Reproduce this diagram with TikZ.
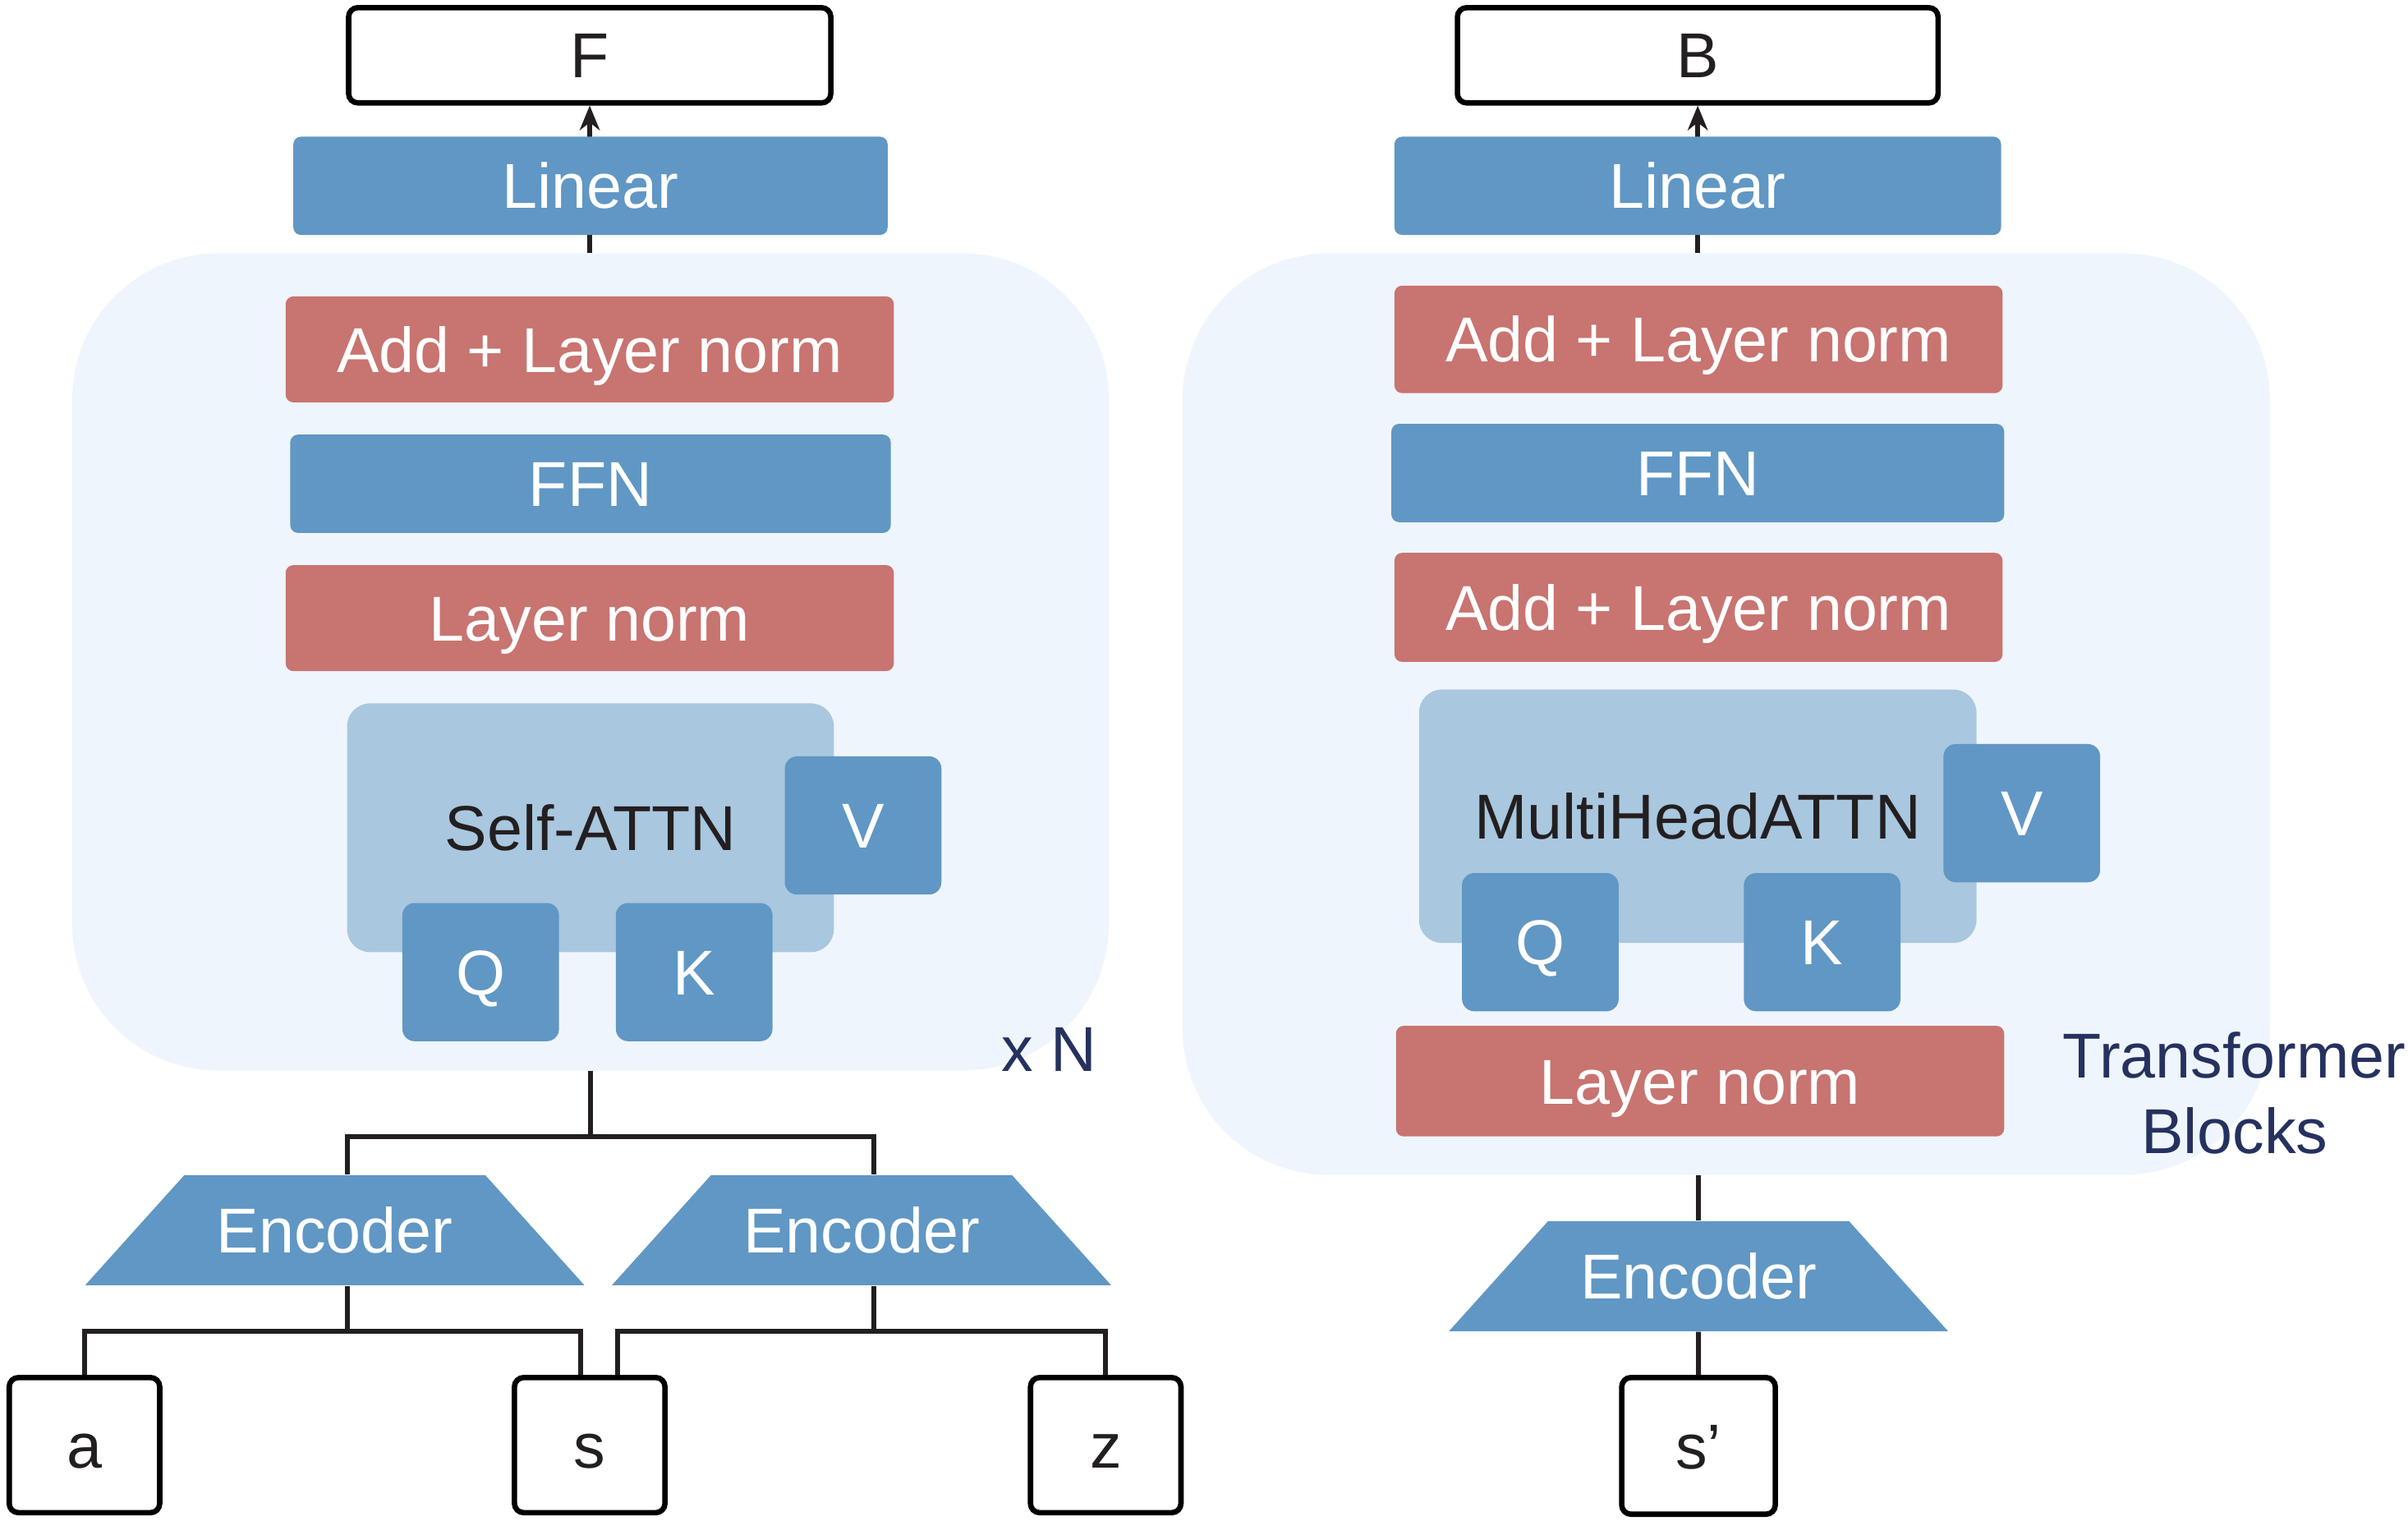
\documentclass[tikz,border=0pt]{standalone}
\usepackage{fontspec}
\setmainfont{Liberation Sans}
\usetikzlibrary{shapes.geometric,arrows.meta}
\definecolor{boxblue}{HTML}{6097C4}
\definecolor{boxred}{HTML}{C87470}
\definecolor{blockbg}{HTML}{EFF5FC}
\definecolor{attnbg}{HTML}{A9C7DF}
\definecolor{labelnavy}{HTML}{25315F}
\definecolor{linedark}{HTML}{231F20}
\begin{document}
\begin{tikzpicture}[x=0.2mm,y=-0.2mm,every node/.style={font=\fontsize{23.5}{28}\selectfont,inner sep=0pt},
	cap_text/.style={text height=16.8pt,text depth=0pt},
	blue_box/.style={rectangle,rounded corners=1mm,fill=boxblue,text=white,cap_text,minimum height=12.8mm},
	red_box/.style={rectangle,rounded corners=1mm,fill=boxred,text=white,cap_text,minimum width=79.2mm,minimum height=14mm},
	io_box/.style={rectangle,rounded corners=1.2mm,draw=black,line width=2pt,fill=white,text=linedark,cap_text},
	block_bg/.style={rectangle,rounded corners=19mm,fill=blockbg,minimum width=135mm},
	attn_box/.style={rectangle,rounded corners=3mm,fill=attnbg,text=linedark,cap_text,minimum height=32.4mm},
	qkv_box/.style={rectangle,rounded corners=1.6mm,fill=boxblue,text=white,cap_text,minimum width=20.4mm,minimum height=18mm},
	enc_node/.style={trapezium,trapezium left angle=48,trapezium right angle=48,trapezium stretches body,fill=boxblue,text=white,cap_text,inner ysep=12pt,minimum width=65mm},
	wire/.style={draw=linedark,line width=1.8pt}]
	
	\useasboundingbox (0,0) rectangle (1568,990);
	
	% left: forward model
	\node[block_bg,minimum height=106.4mm] (blkL) at (384.5,431) {};
	\node[io_box,minimum width=62.8mm,minimum height=12.4mm] (F) at (384,36) {F};
	\draw[wire,-{Stealth[length=3.2mm,width=2.6mm,inset=1mm]}] (blkL.north -| F.south) -- (F.south);
	\node[blue_box,minimum width=77.4mm] (linL) at (384.5,121) {Linear};
	\node[red_box,minimum height=13.8mm] (addL) at (384,227.5) {Add + Layer norm};
	\node[blue_box,minimum width=78.2mm] (ffnL) at (384.5,315) {FFN};
	\node[red_box,minimum height=13.8mm] (lnL) at (384,402.5) {Layer norm};
	\node[attn_box,minimum width=63.4mm] (attnL) at (384.5,539) {Self-ATTN};
	\node[qkv_box] (vL) at (562,537.5) {V};
	\node[qkv_box] (qL) at (313,633) {Q};
	\node[qkv_box] (kL) at (452,633) {K};
	\node[text=labelnavy,cap_text] (xN) at (683,683) {x N};
	
	\node[enc_node] (encA) at (218,801) {Encoder};
	\node[enc_node] (encB) at (561,801) {Encoder};
	\node[io_box,minimum width=19.6mm,minimum height=17.6mm] (a) at (55,941) {a};
	\node[io_box,minimum width=19.6mm,minimum height=17.6mm] (s) at (384,941) {s};
	\node[io_box,minimum width=19.6mm,minimum height=17.6mm] (z) at (720,941) {z};
	
	\coordinate (jT) at (384.5,740);
	\coordinate (jA) at (226,867);
	\coordinate (jB) at (569,867);
	\draw[wire] (blkL.south) -- (jT);
	\draw[wire] (encA.north -| jA) |- (jT) -| (encB.north -| jB);
	\draw[wire] (encA.south -| jA) -- (jA);
	\draw[wire] (encB.south -| jB) -- (jB);
	\draw[wire] (a.north) |- (jA) -| ([xshift=-1.2mm]s.north);
	\draw[wire] ([xshift=3.6mm]s.north) |- (jB) -| (z.north);
	
	% right: backward model
	\node[block_bg,minimum width=141.6mm,minimum height=120mm] (blkR) at (1124,465) {};
	\node[io_box,minimum width=62.6mm,minimum height=12.4mm] (B) at (1105.5,36) {B};
	\draw[wire,-{Stealth[length=3.2mm,width=2.6mm,inset=1mm]}] (blkR.north -| B.south) -- (B.south);
	\node[blue_box,minimum width=79mm] (linR) at (1105.5,121) {Linear};
	\node[red_box] (addR) at (1106,221) {Add + Layer norm};
	\node[blue_box,minimum width=79.8mm] (ffnR) at (1105.5,308) {FFN};
	\node[red_box,minimum height=14.2mm] (addR2) at (1106,395.5) {Add + Layer norm};
	\node[attn_box,minimum width=72.6mm,minimum height=33mm] (attnR) at (1105.5,531.5) {MultiHeadATTN};
	\node[qkv_box] (vR) at (1316.5,529.5) {V};
	\node[qkv_box] (qR) at (1003,613.5) {Q};
	\node[qkv_box] (kR) at (1186.5,613.5) {K};
	\node[red_box,minimum height=14.4mm] (lnR) at (1107,704) {Layer norm};
	\node[text=labelnavy,align=center] (tb) at (1455,712) {Transformer\\Blocks};
	
	\node[enc_node] (encS) at (1106,831) {Encoder};
	\node[io_box,minimum width=20mm,minimum height=17.8mm] (sp) at (1106,941.5) {s’};
	\draw[wire] (encS.north |- blkR.south) -- (encS.north);
	\draw[wire] (encS.south) -- (sp.north);
\end{tikzpicture}
\end{document}
